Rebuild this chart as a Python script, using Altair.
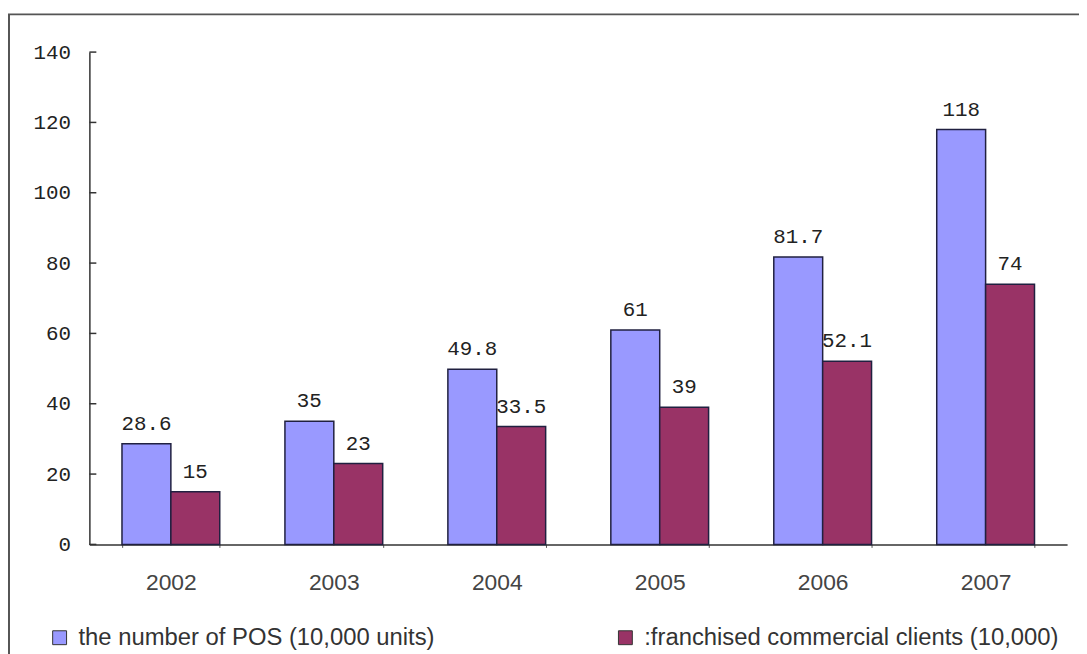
import altair as alt
import pandas as pd

years = ["2002", "2003", "2004", "2005", "2006", "2007"]
pos_units = [28.6, 35, 49.8, 61, 81.7, 118]
clients = [15, 23, 33.5, 39, 52.1, 74]
series_names = ["the number of POS (10,000 units)", "franchised commercial clients (10,000)"]
y_ticks = [0, 20, 40, 60, 80, 100, 120, 140]
colors = ["#9999FF", "#993366"]

rows = []
for i, yr in enumerate(years):
    rows.append({"year": yr, "series": series_names[0], "value": pos_units[i], "label": f"{pos_units[i]:g}"})
    rows.append({"year": yr, "series": series_names[1], "value": clients[i], "label": f"{clients[i]:g}"})
df = pd.DataFrame(rows)
ticks_df = pd.DataFrame({"t": y_ticks})

W, H = 985, 496

xscale = alt.Scale(domain=years, paddingInner=0.4, paddingOuter=0.2)
yscale = alt.Scale(domain=[0, 140], nice=False)
cscale = alt.Scale(domain=series_names, range=colors)

base = alt.Chart(df)

bars = base.mark_bar(stroke="#202040", strokeWidth=1.5).encode(
    x=alt.X("year:N", scale=xscale, sort=years,
            axis=alt.Axis(title=None, labelAngle=0, labelFont="Liberation Sans", labelFontSize=23,
                          labelColor="#444444", labelPadding=24, tickBand="extent", tickSize=3,
                          tickColor="#555555", domainColor="#333333", domainWidth=1.5)),
    xOffset=alt.XOffset("series:N", sort=series_names, scale=alt.Scale(paddingInner=0, paddingOuter=0)),
    y=alt.Y("value:Q", scale=yscale,
            axis=alt.Axis(title=None, values=y_ticks, ticks=False, grid=False, labelFont="Liberation Mono",
                          labelFontSize=21, labelColor="#222222", labelPadding=19,
                          domainColor="#333333", domainWidth=1.5)),
    color=alt.Color("series:N", scale=cscale, sort=series_names,
                    legend=alt.Legend(title=None, orient="none", legendX=-42, legendY=578,
                                      direction="horizontal", symbolType="square", symbolSize=196,
                                      symbolStrokeColor="#333333", symbolStrokeWidth=1,
                                      labelFont="Liberation Sans", labelFontSize=24, labelColor="#333333",
                                      labelOffset=7, columnPadding=180, labelLimit=800,
                                      labelExpr="datum.index == 1 ? ':' + datum.label : datum.label")),
)

labels = base.mark_text(dy=-20, font="Liberation Mono", fontSize=21, color="#222222").encode(
    x=alt.X("year:N", scale=xscale, sort=years),
    xOffset=alt.XOffset("series:N", sort=series_names, scale=alt.Scale(paddingInner=0, paddingOuter=0)),
    y=alt.Y("value:Q", scale=yscale),
    text="label:N",
)

yticks = alt.Chart(ticks_df).mark_rule(color="#333333", strokeWidth=1.5).encode(
    y=alt.Y("t:Q", scale=yscale),
    x=alt.value(0),
    x2=alt.value(7),
)

frame = alt.Chart(pd.DataFrame({"a": [0]})).mark_rect(fill=None, stroke="#555555", strokeWidth=2).encode(
    x=alt.value(-81), x2=alt.value(1010), y=alt.value(-38), y2=alt.value(700),
)

chart = alt.layer(frame, bars, labels, yticks).properties(
    width=W, height=H,
    autosize=alt.AutoSizeParams(type="none"),
    padding={"left": 82, "top": 42, "right": 12, "bottom": 110},
    view=alt.ViewBackground(stroke="transparent", strokeWidth=0),
).configure_view(strokeWidth=0, stroke="transparent").configure(background="white")

chart.save("out.html", embed_options={"renderer": "svg", "actions": False})
